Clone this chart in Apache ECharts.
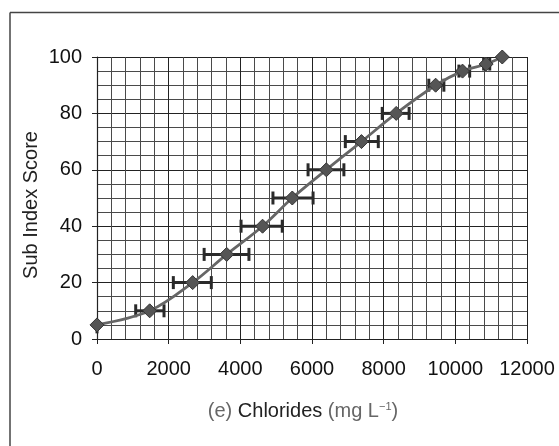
<!DOCTYPE html>
<html><head><meta charset="utf-8">
<script src="https://cdn.jsdelivr.net/npm/echarts@6/dist/echarts.min.js"></script>
<style>html,body{margin:0;padding:0;background:#fff}#c{width:559px;height:446px}</style>
</head><body><div id="c"></div>
<script>
// Data
var chlorides = [0, 1470, 2670, 3620, 4620, 5450, 6400, 7380, 8350, 9450, 10200, 10860, 11310];
var scores    = [5, 10, 20, 30, 40, 50, 60, 70, 80, 90, 95, 97.5, 100];
var errLow    = [null, 1080, 2130, 2990, 4020, 4910, 5890, 6930, 7960, 9260, 10100, 10790, null];
var errHigh   = [null, 1870, 3190, 4240, 5170, 6030, 6890, 7850, 8710, 9680, 10400, 10960, null];
var yErrLow   = [2, null, null, null, null, null, null, null, null, null, null, null, 98.3];
var xTicks = [0, 2000, 4000, 6000, 8000, 10000, 12000];
var yTicks = [0, 20, 40, 60, 80, 100];

var pts = chlorides.map(function(x,i){return [x, scores[i]];});
var errData = chlorides.map(function(x,i){return [x, scores[i], errLow[i], errHigh[i], yErrLow[i]];});

var chart = echarts.init(document.getElementById('c'), null, {renderer:'canvas'});
var font = '"Liberation Sans", Arial, sans-serif';
chart.setOption({
  animation:false,
  grid:{left:97, right:32, top:57, bottom:107},
  xAxis:{type:'value', min:xTicks[0], max:xTicks[xTicks.length-1], interval:2000,
    axisLine:{show:true, onZero:false, lineStyle:{color:'#222', width:1.2}},
    axisTick:{show:true, inside:false, length:5, lineStyle:{color:'#222'}},
    axisLabel:{color:'#111', fontSize:20, fontFamily:font, margin:20, formatter:function(v){return String(v);}},
    splitLine:{show:true, lineStyle:{color:'#222', width:1}},
    minorTick:{show:false, splitNumber:5},
    minorSplitLine:{show:true, lineStyle:{color:'#4a4a4a', width:1}}
  },
  yAxis:{type:'value', min:yTicks[0], max:yTicks[yTicks.length-1], interval:20,
    axisLine:{show:true, onZero:false, lineStyle:{color:'#222', width:1.2}},
    axisTick:{show:true, inside:false, length:5, lineStyle:{color:'#222'}},
    axisLabel:{color:'#111', fontSize:20, fontFamily:font, margin:15, formatter:function(v){return String(v);}},
    splitLine:{show:true, lineStyle:{color:'#222', width:1}},
    minorTick:{show:false, splitNumber:4},
    minorSplitLine:{show:true, lineStyle:{color:'#4a4a4a', width:1}}
  },
  series:[
    {type:'line', data:pts, smooth:0.35, symbol:'diamond', symbolSize:14,
      lineStyle:{color:'#666', width:2.8},
      itemStyle:{color:'#555', borderColor:'#333', borderWidth:1}, z:3},
    {type:'custom', data:errData, z:2,
      renderItem:function(params, api){
        var children=[];
        var st={stroke:'#2a2a2a', lineWidth:3};
        var lo=api.value(2), hi=api.value(3), yl=api.value(4);
        var y=api.value(1);
        if(!isNaN(lo) && lo!==null){
          var p1=api.coord([lo,y]), p2=api.coord([hi,y]);
          if(isFinite(p1[0]) && isFinite(p2[0])){
            children.push({type:'line', shape:{x1:p1[0],y1:p1[1],x2:p2[0],y2:p2[1]}, style:st});
            children.push({type:'line', shape:{x1:p1[0],y1:p1[1]-6.5,x2:p1[0],y2:p1[1]+6.5}, style:st});
            children.push({type:'line', shape:{x1:p2[0],y1:p2[1]-6.5,x2:p2[0],y2:p2[1]+6.5}, style:st});
          }
        }
        if(!isNaN(yl) && yl!==null){
          var q1=api.coord([api.value(0),y]), q2=api.coord([api.value(0),yl]);
          if(isFinite(q2[1])) children.push({type:'line', shape:{x1:q1[0],y1:q1[1],x2:q2[0],y2:q2[1]}, style:st});
        }
        return {type:'group', children:children};
      }
    }
  ],
  graphic:[
    {type:'line', shape:{x1:10,y1:12.5,x2:10,y2:446}, style:{stroke:'#444', lineWidth:1.5}},
    {type:'line', shape:{x1:10,y1:12.5,x2:559,y2:12.5}, style:{stroke:'#444', lineWidth:1.5}},
    {type:'text', x:31, y:205, rotation:Math.PI/2, style:{text:'Sub Index Score', font:'20px '+font, fill:'#222', textAlign:'center', textVerticalAlign:'middle'}},
    {type:'text', x:303, y:411, style:{text:'{g|(e)} Chlorides {g|(mg L}{s|−1}{g|)}', font:'20px '+font, fill:'#222', textAlign:'center', textVerticalAlign:'middle',
      rich:{g:{fill:'#666', font:'20px '+font}, s:{fill:'#666', font:'11px '+font, verticalAlign:'top', padding:[0,0,8,0]}}}}
  ]
});
</script></body></html>
